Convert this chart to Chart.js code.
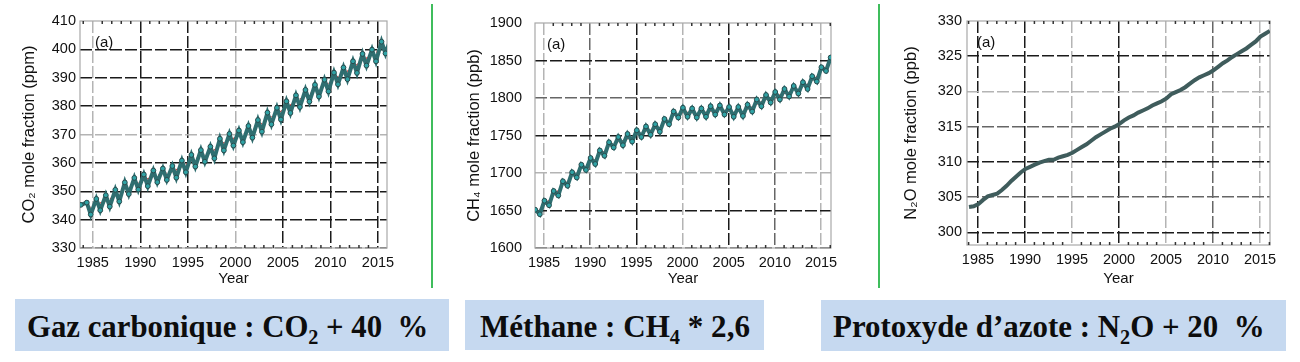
<!DOCTYPE html>
<html>
<head>
<meta charset="utf-8">
<script src="https://cdn.jsdelivr.net/npm/chart.js@4.4.1/dist/chart.umd.min.js"></script>
<style>
  body { margin: 0; background: #fff; width: 1300px; height: 362px; position: relative; overflow: hidden; }
  canvas { position: absolute; top: 0; }
  .sep { position: absolute; top: 4px; width: 1.5px; height: 284px; background: #3fbd5c; }
  .box { position: absolute; background: #c6d9f0; }
  .box span { position: absolute; white-space: nowrap; font: bold 32px "Liberation Serif", "Times New Roman", serif;
              line-height: 32px; color: #0d0d0d; transform-origin: 0 0; }
  .box sub { font-size: 21px; vertical-align: -7px; line-height: 0; }
</style>
</head>
<body>
<canvas id="co2" width="420" height="290" style="left:0"></canvas>
<canvas id="ch4" width="430" height="290" style="left:440px"></canvas>
<canvas id="n2o" width="420" height="290" style="left:880px"></canvas>
<div class="sep" style="left:431px"></div>
<div class="sep" style="left:878px"></div>

<div class="box" style="left:15px;top:299px;width:434px;height:52px"><span data-w="401" style="left:12px;top:11px">Gaz carbonique : CO<sub>2</sub> + 40 &nbsp;%</span></div>
<div class="box" style="left:465px;top:300px;width:299px;height:50px"><span data-w="270" style="left:15px;top:10px">Méthane : CH<sub>4</sub> * 2,6</span></div>
<div class="box" style="left:821px;top:300px;width:465px;height:51px"><span data-w="432" style="left:12px;top:10px">Protoxyde d’azote : N<sub>2</sub>O + 20 &nbsp;%</span></div>

<script>
// axes
const yearTicks = [1985, 1990, 1995, 2000, 2005, 2010, 2015];
const co2Ticks = [330, 340, 350, 360, 370, 380, 390, 400, 410];
const ch4Ticks = [1600, 1650, 1700, 1750, 1800, 1850, 1900];
const n2oTicks = [300, 305, 310, 315, 320, 325, 330];

// CO2 (ppm) : seasonal maximum (May) and minimum (October), annual trend
const co2Start = [1983.75, 345.2];
const co2Years = [1984, 1985, 1986, 1987, 1988, 1989, 1990, 1991, 1992, 1993, 1994, 1995, 1996, 1997, 1998, 1999,
                  2000, 2001, 2002, 2003, 2004, 2005, 2006, 2007, 2008, 2009, 2010, 2011, 2012, 2013, 2014, 2015, 2016];
const co2Max = [346.0, 347.3, 348.6, 350.5, 353.1, 354.7, 355.9, 357.3, 358.0, 358.9, 360.8, 362.8, 364.5, 365.7, 368.5, 370.2,
                371.4, 373.0, 375.1, 377.7, 379.4, 381.7, 383.8, 385.7, 387.5, 389.3, 391.8, 393.6, 395.8, 398.4, 399.9, 402.7, 404.0];
const co2Min = [341.8, 343.3, 344.6, 346.4, 349.0, 350.6, 351.8, 353.2, 354.0, 354.8, 356.7, 358.7, 360.4, 361.6, 364.4, 366.1,
                367.3, 368.9, 371.0, 373.6, 375.3, 377.6, 379.7, 381.6, 383.4, 385.2, 387.7, 389.5, 391.7, 394.3, 395.8, 398.6, null];
const co2Trend = [344.0, 345.5, 346.8, 348.6, 351.2, 352.8, 354.0, 355.4, 356.2, 357.0, 358.9, 360.9, 362.6, 363.8, 366.6, 368.3,
                  369.5, 371.1, 373.2, 375.8, 377.5, 379.8, 381.9, 383.8, 385.6, 387.4, 389.9, 391.7, 393.9, 396.5, 398.0, 400.8, null];

// CH4 (ppb) : seasonal maximum (January) and minimum (July), annual trend
const ch4Years = [1984, 1985, 1986, 1987, 1988, 1989, 1990, 1991, 1992, 1993, 1994, 1995, 1996, 1997, 1998, 1999,
                  2000, 2001, 2002, 2003, 2004, 2005, 2006, 2007, 2008, 2009, 2010, 2011, 2012, 2013, 2014, 2015, 2016];
const ch4Max = [1651, 1663, 1676, 1689, 1701, 1711, 1720, 1730, 1741, 1748, 1752, 1757, 1762, 1765, 1772, 1782,
                1787, 1786, 1786, 1789, 1790, 1788, 1788, 1791, 1798, 1804, 1808, 1812, 1816, 1821, 1829, 1841, 1854];
const ch4Min = [1645, 1657, 1670, 1683, 1694, 1704, 1712, 1723, 1734, 1737, 1742, 1748, 1751, 1755, 1765, 1774,
                1775, 1774, 1775, 1778, 1778, 1775, 1776, 1782, 1789, 1794, 1798, 1802, 1806, 1812, 1822, 1836, null];
const ch4Trend = [1651, 1663, 1676, 1689, 1700, 1710, 1718, 1729, 1740, 1743, 1748, 1754, 1757, 1761, 1771, 1780,
                  1781, 1780, 1781, 1784, 1784, 1781, 1782, 1788, 1795, 1800, 1804, 1808, 1812, 1818, 1828, 1842, null];

// N2O (ppb) : January and July values
const n2oYears = [1984, 1985, 1986, 1987, 1988, 1989, 1990, 1991, 1992, 1993, 1994, 1995, 1996, 1997, 1998, 1999,
                  2000, 2001, 2002, 2003, 2004, 2005, 2006, 2007, 2008, 2009, 2010, 2011, 2012, 2013, 2014, 2015, 2016];
const n2oJan = [303.6, 304.0, 305.1, 305.5, 306.6, 307.9, 309.0, 309.6, 310.1, 310.3, 310.8, 311.3, 312.1, 313.0, 313.9, 314.7,
                315.4, 316.3, 317.0, 317.6, 318.3, 319.0, 319.9, 320.6, 321.6, 322.3, 323.0, 324.0, 324.9, 325.7, 326.6, 327.8, 328.6];
const n2oJul = [303.7, 304.6, 305.3, 306.0, 307.3, 308.5, 309.3, 309.9, 310.3, 310.6, 311.0, 311.7, 312.5, 313.5, 314.3, 315.0,
                315.9, 316.6, 317.3, 318.0, 318.6, 319.6, 320.2, 321.1, 322.0, 322.6, 323.5, 324.4, 325.3, 326.1, 327.1, 328.2, null];

Chart.defaults.font.family = '"Liberation Sans", Arial, sans-serif';
Chart.defaults.color = '#111';

// two samples per year, at the given months
function seasonal(years, a, monthA, b, monthB) {
    const pts = [];
    years.forEach((yr, i) => {
        if (a[i] != null) pts.push({ x: yr + (monthA - 0.5) / 12, y: a[i] });
        if (b[i] != null) pts.push({ x: yr + (monthB - 0.5) / 12, y: b[i] });
    });
    return pts;
}
function annual(years, vals) {
    return years.map((yr, i) => ({ x: yr + 0.5, y: vals[i] })).filter(p => p.y != null);
}

// frame, minor year ticks and the "(a)" tag
const framePlugin = {
    id: 'frame',
    beforeDatasetsDraw(chart) {
        const { ctx, chartArea: a, scales: { x } } = chart;
        ctx.save();
        ctx.strokeStyle = '#a8a8a8';
        ctx.lineWidth = 1.2;
        ctx.strokeRect(a.left, a.top, a.right - a.left, a.bottom - a.top);
        ctx.strokeStyle = '#333';
        ctx.lineWidth = 1.5;
        for (let yr = Math.ceil(x.min); yr <= x.max; yr++) {
            if (yr % 5 === 0) continue;
            const px = x.getPixelForValue(yr);
            ctx.beginPath();
            ctx.moveTo(px, a.top); ctx.lineTo(px, a.top + 3);
            ctx.moveTo(px, a.bottom); ctx.lineTo(px, a.bottom - 3);
            ctx.stroke();
        }
        ctx.fillStyle = '#111';
        ctx.font = '15px "Liberation Sans", Arial, sans-serif';
        ctx.textBaseline = 'middle';
        ctx.fillText('(a)', a.left + chart.options.plugins.frame.tagX, a.top + 22);
        ctx.restore();
    }
};

const BLACK = '#1a1a1a', DARK = '#666', LIGHT = '#b4b4b4';

function makeChart(id, cfg) {
    const shade = (map) => (c) => (c.tick && map[c.tick.value]) || BLACK;
    new Chart(document.getElementById(id), {
        type: 'line',
        data: { datasets: cfg.datasets },
        options: {
            responsive: false,
            animation: false,
            layout: { padding: { top: cfg.top, right: cfg.right, left: 0, bottom: 0 } },
            plugins: { legend: { display: false }, tooltip: { enabled: false }, frame: { tagX: cfg.tagX } },
            scales: {
                x: {
                    type: 'linear', min: cfg.xMin, max: cfg.xMax,
                    afterBuildTicks: s => { s.ticks = yearTicks.map(v => ({ value: v })); },
                    afterFit: s => { s.height = cfg.xHeight; },
                    ticks: { callback: v => String(v), font: { size: 14.5 }, color: '#111', padding: 6, maxRotation: 0, autoSkip: false },
                    grid: { color: shade(cfg.xShade), lineWidth: 1.5, drawTicks: false },
                    border: { display: false, dash: [12, 3] },
                    title: { display: true, text: 'Year', font: { size: 15 }, color: '#111', padding: { top: 0, bottom: 2 } }
                },
                y: {
                    min: cfg.yMin, max: cfg.yMax,
                    afterBuildTicks: s => { s.ticks = cfg.yTicks.map(v => ({ value: v })); },
                    afterFit: s => { s.width = cfg.yWidth; },
                    ticks: { callback: v => String(v), font: { size: 14.5 }, color: '#111', padding: cfg.yPad },
                    grid: { color: shade(cfg.yShade), lineWidth: 1.5, drawTicks: false },
                    border: { display: false, dash: [12, 3] },
                    title: { display: true, text: cfg.yTitle, font: { size: 16.5 }, color: '#111', padding: { top: cfg.titlePad, bottom: 0 } }
                }
            }
        },
        plugins: [framePlugin]
    });
}

const markerStyle = {
    borderColor: '#2f6e70', borderWidth: 4, pointRadius: 2.4,
    pointBackgroundColor: '#2fa3a5', pointBorderColor: '#2a4a4c', pointBorderWidth: 1, tension: 0
};
const trendStyle = { borderColor: '#e23a3a', borderWidth: 1.2, borderDash: [3, 3], pointRadius: 0, tension: 0 };

makeChart('co2', {
    datasets: [
        { data: [{ x: co2Start[0], y: co2Start[1] }, ...seasonal(co2Years, co2Max, 5, co2Min, 10)], ...markerStyle },
        { data: annual(co2Years, co2Trend), ...trendStyle }
    ],
    xMin: 1983.66, xMax: 2015.95, yMin: 330, yMax: 410, yTicks: co2Ticks,
    top: 21, right: 33, xHeight: 42, yWidth: 80, yPad: 4, titlePad: 20, tagX: 15,
    yTitle: 'CO₂ mole fraction (ppm)',
    xShade: { 1985: LIGHT, 2000: LIGHT },
    yShade: { 410: 'rgba(0,0,0,0)', 370: LIGHT, 330: DARK }
});

makeChart('ch4', {
    datasets: [
        { data: seasonal(ch4Years, ch4Max, 1, ch4Min, 7), ...markerStyle },
        { data: annual(ch4Years, ch4Trend), ...trendStyle }
    ],
    xMin: 1984.02, xMax: 2016.08, yMin: 1600, yMax: 1900, yTicks: ch4Ticks,
    top: 23, right: 39, xHeight: 42, yWidth: 95, yPad: 13, titlePad: 25, tagX: 12,
    yTitle: 'CH₄ mole fraction (ppb)',
    xShade: { 1985: LIGHT, 1990: DARK, 2000: LIGHT, 2010: DARK, 2015: LIGHT },
    yShade: { 1900: 'rgba(0,0,0,0)', 1800: DARK, 1700: LIGHT, 1600: DARK }
});

makeChart('n2o', {
    datasets: [
        { data: seasonal(n2oYears, n2oJan, 1, n2oJul, 7), borderColor: '#3f5c5c', borderWidth: 4, pointRadius: 0, tension: 0 }
    ],
    xMin: 1983.83, xMax: 2016.06, yMin: 298.2, yMax: 330, yTicks: n2oTicks,
    top: 21, right: 30, xHeight: 45, yWidth: 87, yPad: 5, titlePad: 22, tagX: 10,
    yTitle: 'N₂O mole fraction (ppb)',
    xShade: { 1995: LIGHT, 2005: LIGHT, 2010: DARK, 2015: LIGHT },
    yShade: { 330: 'rgba(0,0,0,0)', 320: LIGHT, 315: DARK, 305: DARK }
});

// squeeze the caption texts to the width they have in the picture
document.querySelectorAll('.box span').forEach(el => {
    const k = Number(el.dataset.w) / el.offsetWidth;
    el.style.transform = 'scaleX(' + k.toFixed(3) + ')';
});
</script>
</body>
</html>
